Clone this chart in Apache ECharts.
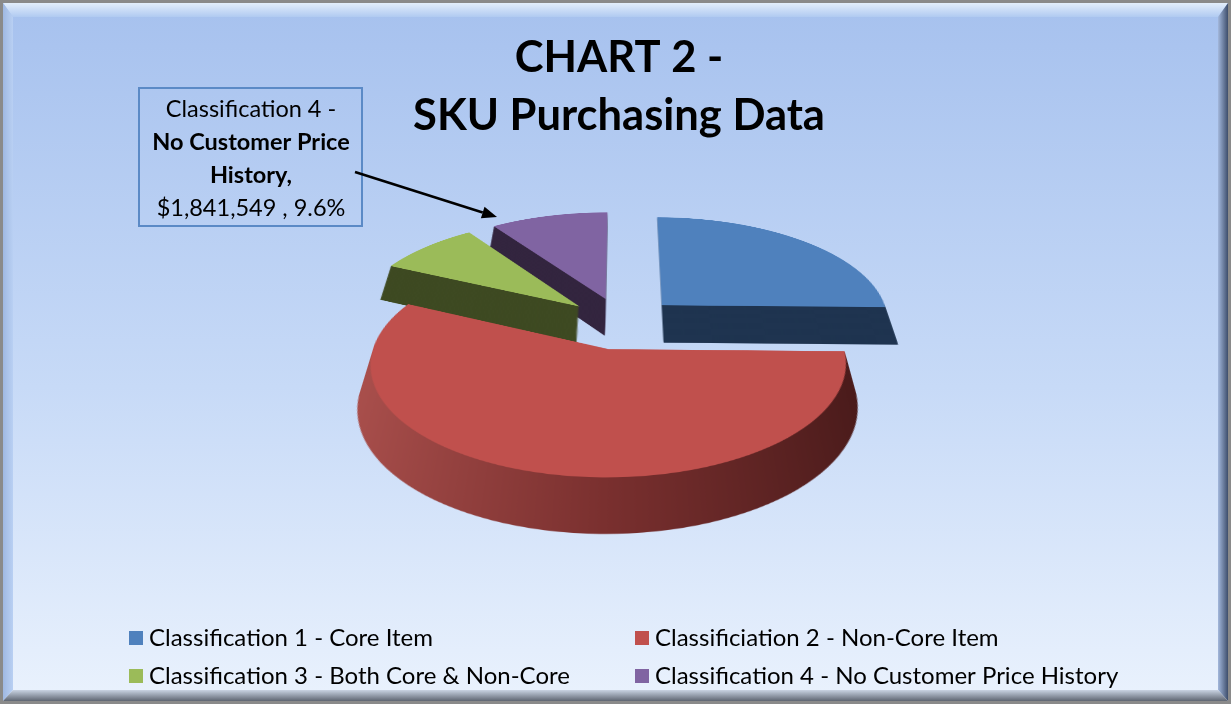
<!DOCTYPE html>
<html><head><meta charset="utf-8">
<script src="https://cdn.jsdelivr.net/npm/echarts@6/dist/echarts.min.js"></script>
<style>
html,body{margin:0;padding:0;width:1231px;height:704px;overflow:hidden;background:#fff;}
#bg,#main{position:absolute;left:0;top:0;width:1231px;height:704px;}
#pie{position:absolute;left:0;width:1231px;}
#main{pointer-events:none;}
</style></head><body>
<div id="bg"></div><div id="pie"></div><div id="main"></div>
<script>
// ---- data ----
const categories = [
  'Classification 1 - Core Item',
  'Classificiation 2 - Non-Core Item',
  'Classification 3 - Both Core & Non-Core',
  'Classification 4 - No Customer Price History'
];
const values = [4853000, 10888000, 1600000, 1841549];
const titleLines = ['CHART 2 -', 'SKU Purchasing Data'];
const calloutIndex = 3;
const calloutNameLines = ['Classification 4 -', 'No Customer Price', 'History,'];

// ---- styles ----
const topColors = ['#4f81bd', '#c0504d', '#9bbb59', '#8064a2'];
const sideColors = [
  '#1f3450',
  {type:'linear', x:0, y:0, x2:1, y2:0, colorStops:[{offset:0,color:'#a94f4c'},{offset:0.5,color:'#7a302f'},{offset:1,color:'#4a1b1b'}]},
  '#3e4a22',
  '#33253f'
];
const FONT = 'Lato, "Open Sans", sans-serif';

// ---- background & frame ----
const bg = echarts.init(document.getElementById('bg'), null, {renderer:'canvas'});
const W = 1231, H = 704;
bg.setOption({
  backgroundColor: {type:'linear', x:0, y:0, x2:0, y2:1, colorStops:[{offset:0,color:'#a6c1ee'},{offset:0.55,color:'#c7daf7'},{offset:1,color:'#eaf2fd'}]},
  graphic: [
    {type:'polygon', shape:{points:[[3,3],[W-3,3],[W-13,17],[13,17]]}, style:{fill:{type:'linear',x:0,y:0,x2:0,y2:1,colorStops:[{offset:0,color:'#e3eefc'},{offset:1,color:'#b0caf1'}]}}},
    {type:'polygon', shape:{points:[[3,3],[13,17],[13,H-14],[3,H-3]]}, style:{fill:{type:'linear',x:0,y:0,x2:1,y2:0,colorStops:[{offset:0,color:'#9fb8e2'},{offset:1,color:'#b9d0f3'}]}}},
    {type:'polygon', shape:{points:[[W-3,3],[W-3,H-3],[W-13,H-14],[W-13,17]]}, style:{fill:{type:'linear',x:0,y:0,x2:1,y2:0,colorStops:[{offset:0,color:'#a3b8dc'},{offset:1,color:'#3e4e6c'}]}}},
    {type:'polygon', shape:{points:[[3,H-3],[W-3,H-3],[W-13,H-14],[13,H-14]]}, style:{fill:{type:'linear',x:0,y:0,x2:0,y2:1,colorStops:[{offset:0,color:'#c9d3e2'},{offset:1,color:'#5f6672'}]}}},
    {type:'rect', shape:{x:1.5, y:1.5, width:W-3, height:H-3}, style:{fill:'none', stroke:'#8a8a8a', lineWidth:3}}
  ]
});

// ---- 3D-looking pie: flat pie layers tilted with a CSS perspective transform ----
const PIE_CX = 622, PIE_CY_SCREEN = 323;
const DIV_H = 820, CYd = 410;
const pieDiv = document.getElementById('pie');
pieDiv.style.height = DIV_H + 'px';
pieDiv.style.top = (PIE_CY_SCREEN - CYd) + 'px';
pieDiv.style.transformOrigin = PIE_CX + 'px ' + CYd + 'px';
pieDiv.style.transform = 'perspective(1543px) rotateX(62.9deg)';
const pie = echarts.init(pieDiv, null, {renderer:'canvas', devicePixelRatio:2});
const R = 228, EXPLODE = 57;
const DEPTH = 82, N = 41;

function layer(dy, colors, z) {
  return {
    type:'pie', silent:true, animation:false, z:z,
    center:[PIE_CX, CYd + dy], radius:R, startAngle:90, clockwise:true,
    selectedMode:'multiple', selectedOffset: EXPLODE,
    label:{show:false}, labelLine:{show:false}, emphasis:{disabled:true},
    data: categories.map((n, j) => ({name:n, value:values[j], selected:true, itemStyle:{color:colors[j]}}))
  };
}
const pieSeries = [];
for (let k = N; k >= 1; k--) pieSeries.push(layer(k * DEPTH / N, sideColors, 1));
pieSeries.push(layer(0, topColors, 2));
pie.setOption({ backgroundColor:'transparent', series: pieSeries });

// ---- overlay: title, callout, legend ----
const main = echarts.init(document.getElementById('main'), null, {renderer:'canvas'});
const total = values.reduce((a, b) => a + b, 0);
const calloutValueLine = '$' + values[calloutIndex].toLocaleString('en-US') + ' , ' + (values[calloutIndex] / total * 100).toFixed(1) + '%';
const calloutLines = calloutNameLines.concat([calloutValueLine]);
const calloutBold = [false, true, true, false];

const graphics = [];
titleLines.forEach((t, i) => graphics.push({
  type:'text', x:619, y:58 + i * 58,
  style:{text:t, textAlign:'center', textVerticalAlign:'middle', fill:'#000', font:'bold 43.5px ' + FONT}
}));
graphics.push({type:'rect', shape:{x:139, y:88, width:223, height:138}, style:{fill:'none', stroke:'#5b8ac6', lineWidth:2}});
calloutLines.forEach((t, i) => graphics.push({
  type:'text', x:251, y:109 + i * 33,
  style:{text:t, textAlign:'center', textVerticalAlign:'middle', fill:'#000', font:(calloutBold[i] ? 'bold ' : '') + '23.5px ' + FONT}
}));
// arrow
const A0 = [355, 172], A1 = [497, 217];
const dx = A1[0] - A0[0], dyy = A1[1] - A0[1], L = Math.hypot(dx, dyy);
const ux = dx / L, uy = dyy / L, hl = 15, hw = 6;
const base = [A1[0] - ux * hl, A1[1] - uy * hl];
graphics.push({type:'line', shape:{x1:A0[0], y1:A0[1], x2:base[0], y2:base[1]}, style:{stroke:'#000', lineWidth:2.5}});
graphics.push({type:'polygon', shape:{points:[A1, [base[0] - uy * hw, base[1] + ux * hw], [base[0] + uy * hw, base[1] - ux * hw]]}, style:{fill:'#000'}});

const legendCommon = {orient:'vertical', itemGap:14, itemWidth:14, itemHeight:14, icon:'rect', selectedMode:false,
  textStyle:{fontSize:24, color:'#000', fontFamily:FONT, padding:[0,0,0,1]}};
main.setOption({
  backgroundColor:'transparent',
  legend:[
    Object.assign({left:124, top:621, data:[categories[0], categories[2]]}, legendCommon),
    Object.assign({left:630, top:621, data:[categories[1], categories[3]]}, legendCommon)
  ],
  graphic: graphics,
  series:[{type:'pie', silent:true, animation:false, center:[-50,-50], radius:1, label:{show:false},
    data: categories.map((n, j) => ({name:n, value:values[j], itemStyle:{color:topColors[j]}}))}]
});
</script>
</body></html>
